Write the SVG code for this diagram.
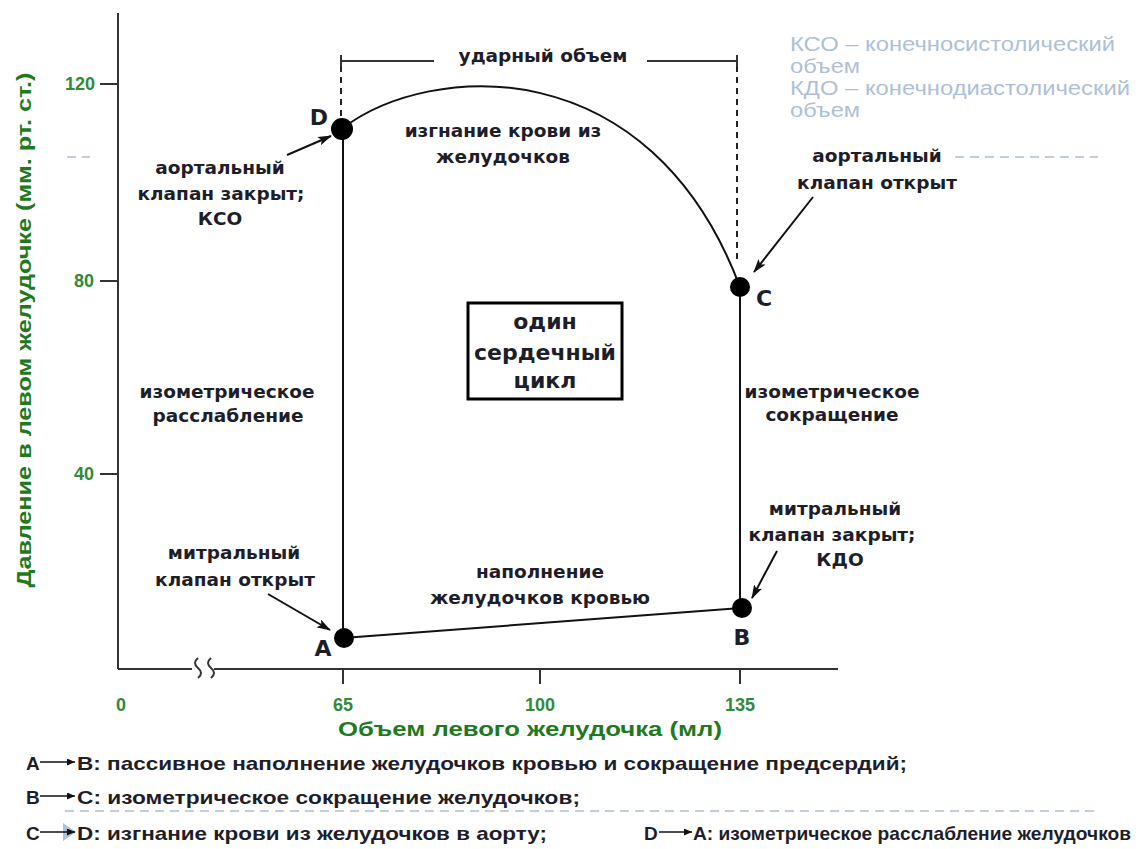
<svg xmlns="http://www.w3.org/2000/svg" width="1140" height="849" viewBox="0 0 1140 849">
<style>
.lbl{font-family:"DejaVu Sans","Liberation Sans",sans-serif;font-weight:bold;font-size:18.5px;fill:#1e1e2a;text-anchor:middle}
.box{font-family:"DejaVu Sans","Liberation Sans",sans-serif;font-weight:bold;font-size:22px;fill:#1e1e2a;text-anchor:middle}
.pt{font-family:"DejaVu Sans","Liberation Sans",sans-serif;font-weight:bold;font-size:22px;fill:#1e1e2a;text-anchor:middle}
.tick{font-family:"Liberation Sans",sans-serif;font-weight:bold;font-size:18px;fill:#2f8a3a;text-anchor:middle}
.ttl{font-family:"Liberation Sans",sans-serif;font-weight:bold;font-size:21px;fill:#1f7a1f;text-anchor:middle}
.leg{font-family:"Liberation Sans",sans-serif;font-size:20px;fill:#aebfd6}
.bot{font-family:"Liberation Sans Narrow","Liberation Sans",sans-serif;font-weight:bold;font-size:19px;fill:#1e1e2a}
.ax{stroke:#333;stroke-width:2;fill:none}
.cyc{stroke:#111;stroke-width:2;fill:none}
.dash{stroke:#222;stroke-width:2;stroke-dasharray:6,5;fill:none}
.bl{stroke:#aebfd6;stroke-width:1.5;stroke-dasharray:9,6;fill:none}
.ann{stroke:#111;stroke-width:2;fill:none;marker-end:url(#ah)}
.sm{stroke:#111;stroke-width:1.5;fill:none;marker-end:url(#ahs)}
.dot{fill:#000}
</style>
<defs>
<marker id="ah" markerUnits="userSpaceOnUse" markerWidth="14" markerHeight="9" refX="13" refY="4.5" orient="auto"><path d="M0,0 L14,4.5 L0,9 L3,4.5 z" fill="#111"/></marker>
<marker id="ahs" markerUnits="userSpaceOnUse" markerWidth="8" markerHeight="7" refX="8" refY="3.5" orient="auto"><path d="M0,0 L8,3.5 L0,7 z" fill="#111"/></marker>
</defs>
<rect width="1140" height="849" fill="#fff"/>

<g id="axes">
<line class="ax" x1="118" y1="13" x2="118" y2="669"/>
<line class="ax" x1="100" y1="84" x2="118" y2="84"/>
<line class="ax" x1="100" y1="281" x2="118" y2="281"/>
<line class="ax" x1="100" y1="474" x2="118" y2="474"/>
<path class="ax" d="M118,669 H192 M214,669 H838"/>
<path class="ax" d="M198,658 q-6,5 0,10 q6,5 0,10 M211,658 q-6,5 0,10 q6,5 0,10" stroke-width="1.6"/>
<line class="ax" x1="343" y1="669" x2="343" y2="684"/>
<line class="ax" x1="540" y1="669" x2="540" y2="684"/>
<line class="ax" x1="740" y1="669" x2="740" y2="684"/>
<text class="tick" x="80" y="90">120</text>
<text class="tick" x="84" y="287">80</text>
<text class="tick" x="84" y="480">40</text>
<text class="tick" x="121" y="711">0</text>
<text class="tick" x="343" y="711">65</text>
<text class="tick" x="540" y="711">100</text>
<text class="tick" x="740" y="711">135</text>
<text class="ttl" x="530" y="736" textLength="384" lengthAdjust="spacingAndGlyphs">Объем левого желудочка (мл)</text>
<text class="ttl" transform="translate(31,330) rotate(-90)" textLength="515" lengthAdjust="spacingAndGlyphs">Давление в левом желудочке (мм. рт. ст.)</text>
<path class="bl" d="M67,157 H90"/>
</g>

<g id="connectors">
<path class="cyc" d="M343,128 V638"/>
<path class="cyc" d="M343,638 L741,608"/>
<path class="cyc" d="M740,608 V287"/>
<path class="cyc" d="M343,128 C430,62 650,48 740,287"/>
<path class="dash" d="M341,55 V116"/>
<path class="dash" d="M737,55 V262"/>
<path class="ax" d="M341,61 H434 M647,61 H737 M341,55 V67 M737,55 V67" stroke="#222"/>
<path class="ann" d="M287,155 L331,136"/>
<path class="ann" d="M813,197 L754,272"/>
<path class="ann" d="M777,551 L752,598"/>
<path class="ann" d="M268,594 L330,630"/>
</g>

<g id="node-D"><circle class="dot" cx="342" cy="129" r="11"/><text class="pt" x="319" y="125">D</text></g>
<g id="node-C"><circle class="dot" cx="740" cy="287" r="10"/><text class="pt" x="764" y="306">C</text></g>
<g id="node-B"><circle class="dot" cx="742" cy="608" r="10"/><text class="pt" x="742" y="645">B</text></g>
<g id="node-A"><circle class="dot" cx="344" cy="638" r="10"/><text class="pt" x="323" y="656">A</text></g>

<g id="label-stroke">
<text class="lbl" x="543" y="62">ударный объем</text>
</g>
<g id="label-ejection">
<text class="lbl" x="503" y="137">изгнание крови из</text>
<text class="lbl" x="503" y="163">желудочков</text>
</g>
<g id="label-aortic-closed">
<text class="lbl" x="220" y="174">аортальный</text>
<text class="lbl" x="221" y="200">клапан закрыт;</text>
<text class="lbl" x="220" y="225">КСО</text>
</g>
<g id="label-aortic-open">
<text class="lbl" x="877" y="162">аортальный</text>
<text class="lbl" x="877" y="189">клапан открыт</text>
<path class="bl" d="M955,157 H1098"/>
</g>
<g id="legend-top">
<text class="leg" x="790" y="51" textLength="325" lengthAdjust="spacingAndGlyphs">КСО – конечносистолический</text>
<text class="leg" x="790" y="73" textLength="70" lengthAdjust="spacingAndGlyphs">объем</text>
<text class="leg" x="790" y="95" textLength="340" lengthAdjust="spacingAndGlyphs">КДО – конечнодиастолический</text>
<text class="leg" x="790" y="117" textLength="70" lengthAdjust="spacingAndGlyphs">объем</text>
</g>
<g id="node-cycle">
<rect x="468" y="303" width="154" height="96" fill="#fff" stroke="#000" stroke-width="3"/>
<text class="box" x="545" y="329">один</text>
<text class="box" x="545" y="360">сердечный</text>
<text class="box" x="545" y="388">цикл</text>
</g>
<g id="label-iso-relax">
<text class="lbl" x="227" y="398">изометрическое</text>
<text class="lbl" x="228" y="422">расслабление</text>
</g>
<g id="label-iso-contr">
<text class="lbl" x="832" y="398">изометрическое</text>
<text class="lbl" x="832" y="421">сокращение</text>
</g>
<g id="label-mitral-closed">
<text class="lbl" x="835" y="515">митральный</text>
<text class="lbl" x="832" y="541">клапан закрыт;</text>
<text class="lbl" x="840" y="566">КДО</text>
</g>
<g id="label-mitral-open">
<text class="lbl" x="234" y="559">митральный</text>
<text class="lbl" x="235" y="586">клапан открыт</text>
</g>
<g id="label-filling">
<text class="lbl" x="540" y="578">наполнение</text>
<text class="lbl" x="540" y="604">желудочков кровью</text>
</g>

<g id="legend-bottom">
<text class="bot" x="26" y="770">A</text>
<path class="sm" d="M40,762 H75"/>
<text class="bot" x="77" y="770" textLength="830" lengthAdjust="spacingAndGlyphs">B:  пассивное  наполнение  желудочков кровью и сокращение предсердий;</text>
<text class="bot" x="26" y="804">B</text>
<path class="sm" d="M40,796 H75"/>
<text class="bot" x="77" y="804" textLength="503" lengthAdjust="spacingAndGlyphs">C: изометрическое сокращение желудочков;</text>
<path class="bl" d="M65,811 H1096"/>
<text class="bot" x="26" y="840">C</text>
<path d="M63,823 L76,832 L63,841 z" fill="#aebfd6"/>
<path class="sm" d="M40,832 H75"/>
<text class="bot" x="77" y="840" textLength="470" lengthAdjust="spacingAndGlyphs">D: изгнание  крови из желудочков в аорту;</text>
<text class="bot" x="644" y="840">D</text>
<path class="sm" d="M659,832 H692"/>
<text class="bot" x="693" y="840" textLength="438" lengthAdjust="spacingAndGlyphs">A:  изометрическое расслабление желудочков</text>
</g>
</svg>
